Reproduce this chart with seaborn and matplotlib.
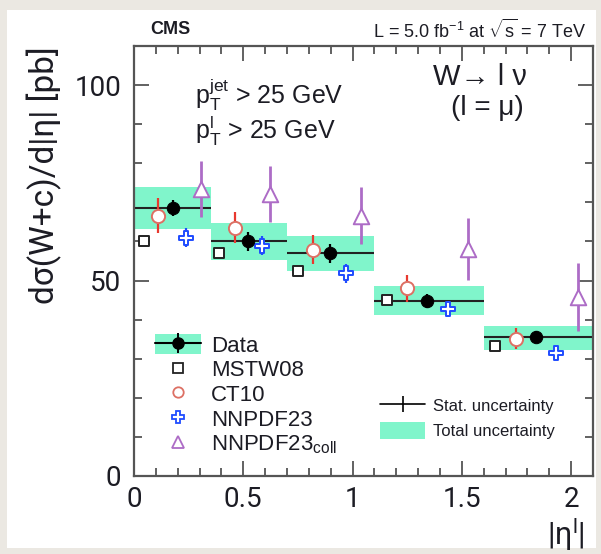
import numpy as np
import pandas as pd
import seaborn as sns
import matplotlib
matplotlib.use("Agg")
import matplotlib.pyplot as plt
from matplotlib.patches import Patch, Rectangle
from matplotlib.lines import Line2D
from matplotlib.ticker import MultipleLocator
from matplotlib.legend_handler import HandlerTuple

# ---------------- data ----------------
bin_lo = [0.0, 0.35, 0.7, 1.1, 1.6]
bin_hi = [0.35, 0.7, 1.1, 1.6, 2.1]
data_x = [0.18, 0.52, 0.895, 1.34, 1.84]
data_y = [68.6, 60.0, 57.0, 44.8, 35.5]
data_stat = [2.0, 2.4, 2.4, 1.8, 1.5]
total_lo = [63.3, 55.3, 52.4, 41.2, 32.3]
total_hi = [74.0, 64.6, 61.5, 48.5, 38.3]

mstw_x = [0.045, 0.39, 0.75, 1.156, 1.65]
mstw_y = [60.2, 57.0, 52.4, 44.9, 33.2]
ct10_x = [0.11, 0.46, 0.82, 1.25, 1.747]
ct10_y = [66.6, 63.5, 57.9, 48.0, 35.1]
ct10_err = [4.5, 4.0, 3.7, 3.4, 2.7]
nnpdf_x = [0.24, 0.585, 0.97, 1.436, 1.93]
nnpdf_y = [61.0, 58.9, 51.9, 42.8, 31.5]
nnpdf_err = [2.4, 2.4, 2.4, 2.0, 1.6]
coll_x = [0.305, 0.62, 1.04, 1.527, 2.03]
coll_y = [73.5, 72.2, 66.6, 58.1, 45.7]
coll_err = [7.2, 7.2, 7.3, 8.0, 8.7]

model_labels = ["MSTW08", "CT10", "NNPDF23", r"NNPDF23$_{\mathrm{coll}}$"]
x_tick_vals = [0, 0.5, 1, 1.5, 2]
x_tick_labels = ["0", "0.5", "1", "1.5", "2"]
y_tick_vals = [0, 50, 100]
y_tick_labels = ["0", "50", "100"]

# ---------------- style ----------------
sns.set_style("ticks")
plt.rcParams["font.family"] = ["Liberation Sans", "DejaVu Sans"]
plt.rcParams["mathtext.fontset"] = "custom"
plt.rcParams["mathtext.rm"] = "Liberation Sans"
plt.rcParams["mathtext.it"] = "Liberation Sans:italic"
plt.rcParams["mathtext.bf"] = "Liberation Sans:bold"

GREEN = "#80f5cb"
RED_M = "#dd7064"
RED_E = "#e8392f"
BLUE = "#1f4cff"
PURPLE = "#ad6cc6"
TXT = "#1c1c24"

W, H = 601, 554
fig = plt.figure(figsize=(W / 100, H / 100), dpi=100, facecolor="#ebe8e2")
fig.patches.append(Rectangle((7 / W, 1 - 548 / H), (596 - 7) / W, (548 - 10) / H,
                             transform=fig.transFigure, facecolor="white",
                             edgecolor="none", zorder=-10))

def px(x, y):
    return (x / W, 1 - y / H)

ax = fig.add_axes([134 / W, 1 - 476 / H, (593 - 134) / W, (476 - 46) / H])
ax.set_zorder(1)
ax.set_facecolor("none")

# total uncertainty boxes
widths = np.array(bin_hi) - np.array(bin_lo)
heights = np.array(total_hi) - np.array(total_lo)
ax.bar(bin_lo, heights, width=widths, bottom=total_lo, align="edge",
       color=GREEN, edgecolor="none", zorder=1)
ax.hlines(data_y, bin_lo, bin_hi, color="#222222", lw=1.5, zorder=2)

# error bars
ax.errorbar(ct10_x, ct10_y, yerr=ct10_err, fmt="none", ecolor=RED_E, elinewidth=1.6, zorder=3)
ax.errorbar(nnpdf_x, nnpdf_y, yerr=nnpdf_err, fmt="none", ecolor=BLUE, elinewidth=1.6, zorder=3)
ax.errorbar(coll_x, coll_y, yerr=coll_err, fmt="none", ecolor=PURPLE, elinewidth=2.0, zorder=3)
ax.errorbar(data_x, data_y, yerr=data_stat, fmt="none", ecolor="black", elinewidth=1.6, zorder=4)

# markers via seaborn
def open_markers(x, y, marker, color, s, lw=1.4, z=5):
    sns.scatterplot(x=x, y=y, marker=marker, s=s, ax=ax, legend=False, zorder=z)
    coll = ax.collections[-1]
    coll.set_facecolor("white")
    coll.set_edgecolor(color)
    coll.set_linewidth(lw)

open_markers(mstw_x, mstw_y, "s", "#222222", 62)
open_markers(ct10_x, ct10_y, "o", RED_M, 90)
open_markers(nnpdf_x, nnpdf_y, "P", BLUE, 110)
open_markers(coll_x, coll_y, "^", PURPLE, 125)
sns.scatterplot(x=data_x, y=data_y, marker="o", s=80, color="black",
                edgecolor="black", ax=ax, legend=False, zorder=6)

# axes
ax.set_xlim(0, 2.1)
ax.set_ylim(0, 110)
ax.set_xticks(x_tick_vals)
ax.set_xticklabels(x_tick_labels)
ax.set_yticks(y_tick_vals)
ax.set_yticklabels(y_tick_labels)
ax.xaxis.set_minor_locator(MultipleLocator(0.1))
ax.yaxis.set_minor_locator(MultipleLocator(10))
ax.set_xlabel("")
ax.set_ylabel("")
ax.tick_params(which="both", direction="in", top=True, right=True, color="#555555", width=1.3)
ax.tick_params(which="major", length=11)
ax.tick_params(which="minor", length=6)
ax.tick_params(axis="both", which="major", labelsize=20, labelcolor=TXT)
ax.tick_params(axis="y", pad=9)
ax.tick_params(axis="x", pad=7)
for lab in ax.get_xticklabels() + ax.get_yticklabels():
    lab.set_family(["Roboto", "DejaVu Sans"])
for sp in ax.spines.values():
    sp.set_visible(True)
    sp.set_color("#555555")
    sp.set_linewidth(1.6)

# axis labels
fig.text(*px(44, 175), "dσ(W+c)/d|η| [pb]", rotation=90, ha="center", va="center",
         fontsize=24, color=TXT, family=["Roboto", "DejaVu Sans"])
fig.text(*px(566, 534), r"|η$^{\mathrm{l}}$|", ha="center", va="center",
         fontsize=22, color=TXT, family=["Roboto", "DejaVu Sans"])

# header texts
fig.text(*px(150, 30), "CMS", ha="left", va="center", fontsize=13, fontweight="bold", color=TXT)
fig.text(*px(586, 30), r"L = 5.0 fb$^{\mathrm{-1}}$ at $\sqrt{\mathrm{s}}$ = 7 TeV",
         ha="right", va="center", fontsize=13, color=TXT)

# in-plot annotations
fig.text(*px(195, 95), r"p$_{\mathrm{T}}^{\mathrm{jet}}$ > 25 GeV", ha="left", va="center",
         fontsize=18, color=TXT, zorder=5)
fig.text(*px(195, 131), r"p$_{\mathrm{T}}^{\mathrm{l}}$ > 25 GeV", ha="left", va="center",
         fontsize=18, color=TXT, zorder=5)
fig.text(*px(480, 77), "W→ l ν", ha="center", va="center", fontsize=21, color=TXT,
         family=["Liberation Sans", "DejaVu Sans"], zorder=5)
fig.text(*px(487, 108), "(l = μ)", ha="center", va="center", fontsize=20, color=TXT, zorder=5)

# legends
h_data = (Patch(facecolor=GREEN, edgecolor="none"),
          Line2D([], [], color="black", lw=1.5, marker="o", markersize=8),
          Line2D([], [], ls="none", color="black", marker="|", markersize=14, markeredgewidth=1.4))
h_mstw = Line2D([], [], ls="none", marker="s", markersize=7, markerfacecolor="white",
                markeredgecolor="#222222", markeredgewidth=1.3)
h_ct10 = Line2D([], [], ls="none", marker="o", markersize=7.5, markerfacecolor="white",
                markeredgecolor=RED_M, markeredgewidth=1.3)
h_nnpdf = Line2D([], [], ls="none", marker="P", markersize=8.5, markerfacecolor="white",
                 markeredgecolor=BLUE, markeredgewidth=1.3)
h_coll = Line2D([], [], ls="none", marker="^", markersize=8, markerfacecolor="white",
                markeredgecolor=PURPLE, markeredgewidth=1.3)
leg1 = ax.legend([h_data, h_mstw, h_ct10, h_nnpdf, h_coll], ["Data"] + model_labels,
                 loc="upper left", bbox_to_anchor=(0.046, 0.33), frameon=False,
                 fontsize=16, handlelength=2.05, handleheight=1.0, handletextpad=0.45,
                 labelspacing=0.1, borderpad=0, borderaxespad=0,
                 handler_map={tuple: HandlerTuple(ndivide=1, pad=0)})
for t in leg1.get_texts():
    t.set_color(TXT)
ax.add_artist(leg1)

h_stat = Line2D([], [], color="black", lw=1.2, marker="|", markersize=12, markeredgewidth=1.2)
h_tot = Patch(facecolor=GREEN, edgecolor="none")
leg2 = ax.legend([h_stat, h_tot], ["Stat. uncertainty", "Total uncertainty"],
                 loc="upper left", bbox_to_anchor=(0.536, 0.183), frameon=False,
                 fontsize=12, handlelength=2.7, handleheight=1.2, handletextpad=0.45,
                 labelspacing=0.45, borderpad=0, borderaxespad=0)
for t in leg2.get_texts():
    t.set_color(TXT)

fig.savefig("out.png", dpi=100, facecolor=fig.get_facecolor())
